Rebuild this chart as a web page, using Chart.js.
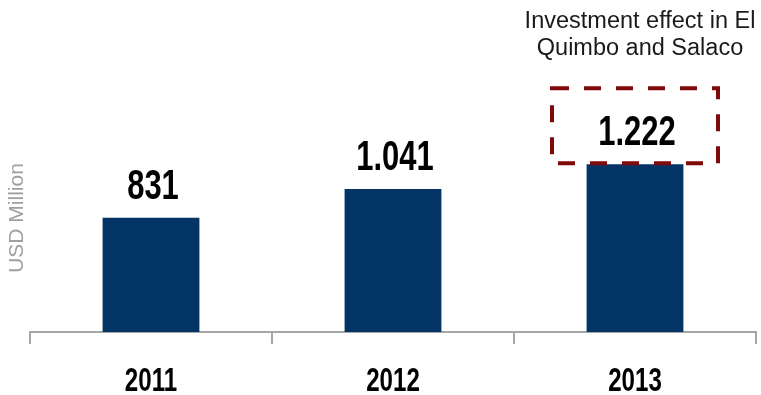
<!DOCTYPE html>
<html>
<head>
<meta charset="utf-8">
<script src="https://cdn.jsdelivr.net/npm/chart.js@4"></script>
<style>
    html, body {
        margin: 0;
        padding: 0;
        background: #ffffff;
    }

    #wrap {
        width: 761px;
        height: 395px;
    }
</style>
</head>
<body>
<div id="wrap">
    <canvas id="revenueChart"></canvas>
</div>

<script>
// ==========================
// DATA
// ==========================

const years = ["2011", "2012", "2013"];

const revenue = [831, 1041, 1222];

const noteLines = [
    "Investment effect in El",
    "Quimbo and Salaco"
];

const noteIndex = 2;

const sansFont =
    "'Liberation Sans', Arial, sans-serif";

// 1041 -> "1.041"
function formatValue(v) {
    return String(v).replace(/\B(?=(\d{3})+(?!\d))/g, ".");
}

// bold text squeezed sideways (the original uses a narrow face)
function narrowText(ctx, text, x, y, size, squeeze) {
    ctx.save();
    ctx.translate(x, y);
    ctx.scale(squeeze, 1);
    ctx.font = "bold " + size + "px " + sansFont;
    ctx.fillStyle = "#000000";
    ctx.textAlign = "center";
    ctx.textBaseline = "alphabetic";
    ctx.fillText(text, 0, 0);
    ctx.restore();
}


// ==========================
// LABELS + NOTE BOX
// ==========================

const valueLabels = {

    id: "valueLabels",

    afterDatasetsDraw(chart) {

        const ctx = chart.ctx;
        const bars = chart.getDatasetMeta(0).data;
        const xScale = chart.scales.x;

        // values above the bars
        bars.forEach((bar, i) => {
            narrowText(ctx, formatValue(revenue[i]), bar.x + 2, bar.y - 19, 43, 0.72);
        });

        // year labels under the axis
        xScale.ticks.forEach((tick, i) => {
            narrowText(
                ctx,
                xScale.getLabelForValue(tick.value),
                xScale.getPixelForTick(i),
                391,
                33,
                0.73);
        });

        // dashed box round the 2013 value
        const bar = bars[noteIndex];

        if (bar) {

            const left = bar.x - 83;
            const right = bar.x + 83;
            const top = bar.y - 76;
            const bottom = bar.y - 1;

            ctx.save();
            ctx.strokeStyle = "#7f0a0a";
            ctx.lineWidth = 4;
            ctx.setLineDash([17, 15]);
            ctx.strokeRect(left, top, right - left, bottom - top);
            ctx.restore();

            ctx.save();
            ctx.font = "23.5px " + sansFont;
            ctx.fillStyle = "#1a1a1a";
            ctx.textAlign = "center";
            ctx.textBaseline = "alphabetic";

            noteLines.forEach((line, k) => {
                ctx.fillText(line, bar.x + 5, top - 60 + k * 27);
            });

            ctx.restore();
        }
    }
};


// ==========================
// BAR CHART
// ==========================

const barCtx =
document.getElementById(
    "revenueChart");

if (barCtx) {

    new Chart(barCtx, {

        type: "bar",

        data: {

            labels: years,

            datasets: [{

                data: revenue,

                backgroundColor: "#023466",

                borderWidth: 0,

                barPercentage: 0.8,

                categoryPercentage: 0.5
            }]
        },

        options: {

            responsive: true,

            maintainAspectRatio: false,

            animation: false,

            layout: {

                padding: {
                    top: 104,
                    right: 5,
                    bottom: 51,
                    left: 0
                }
            },

            plugins: {

                legend: { display: false },

                tooltip: { enabled: false }
            },

            scales: {

                x: {

                    grid: {
                        display: true,
                        drawOnChartArea: false,
                        drawTicks: true,
                        tickLength: 12,
                        color: "#a6a6a6",
                        lineWidth: 2,
                        offset: true
                    },

                    border: {
                        display: true,
                        color: "#a6a6a6",
                        width: 2
                    },

                    ticks: { display: false }
                },

                y: {

                    min: 0,

                    max: 1660,

                    grid: {
                        display: false,
                        drawTicks: false
                    },

                    border: { display: false },

                    ticks: { display: false },

                    title: {
                        display: true,
                        text: "USD Million",
                        color: "#a0a0a0",
                        padding: { top: 7, bottom: 2 },
                        font: {
                            family: sansFont,
                            size: 21,
                            lineHeight: 1
                        }
                    }
                }
            }
        },

        plugins: [valueLabels]
    });
}
</script>
</body>
</html>
